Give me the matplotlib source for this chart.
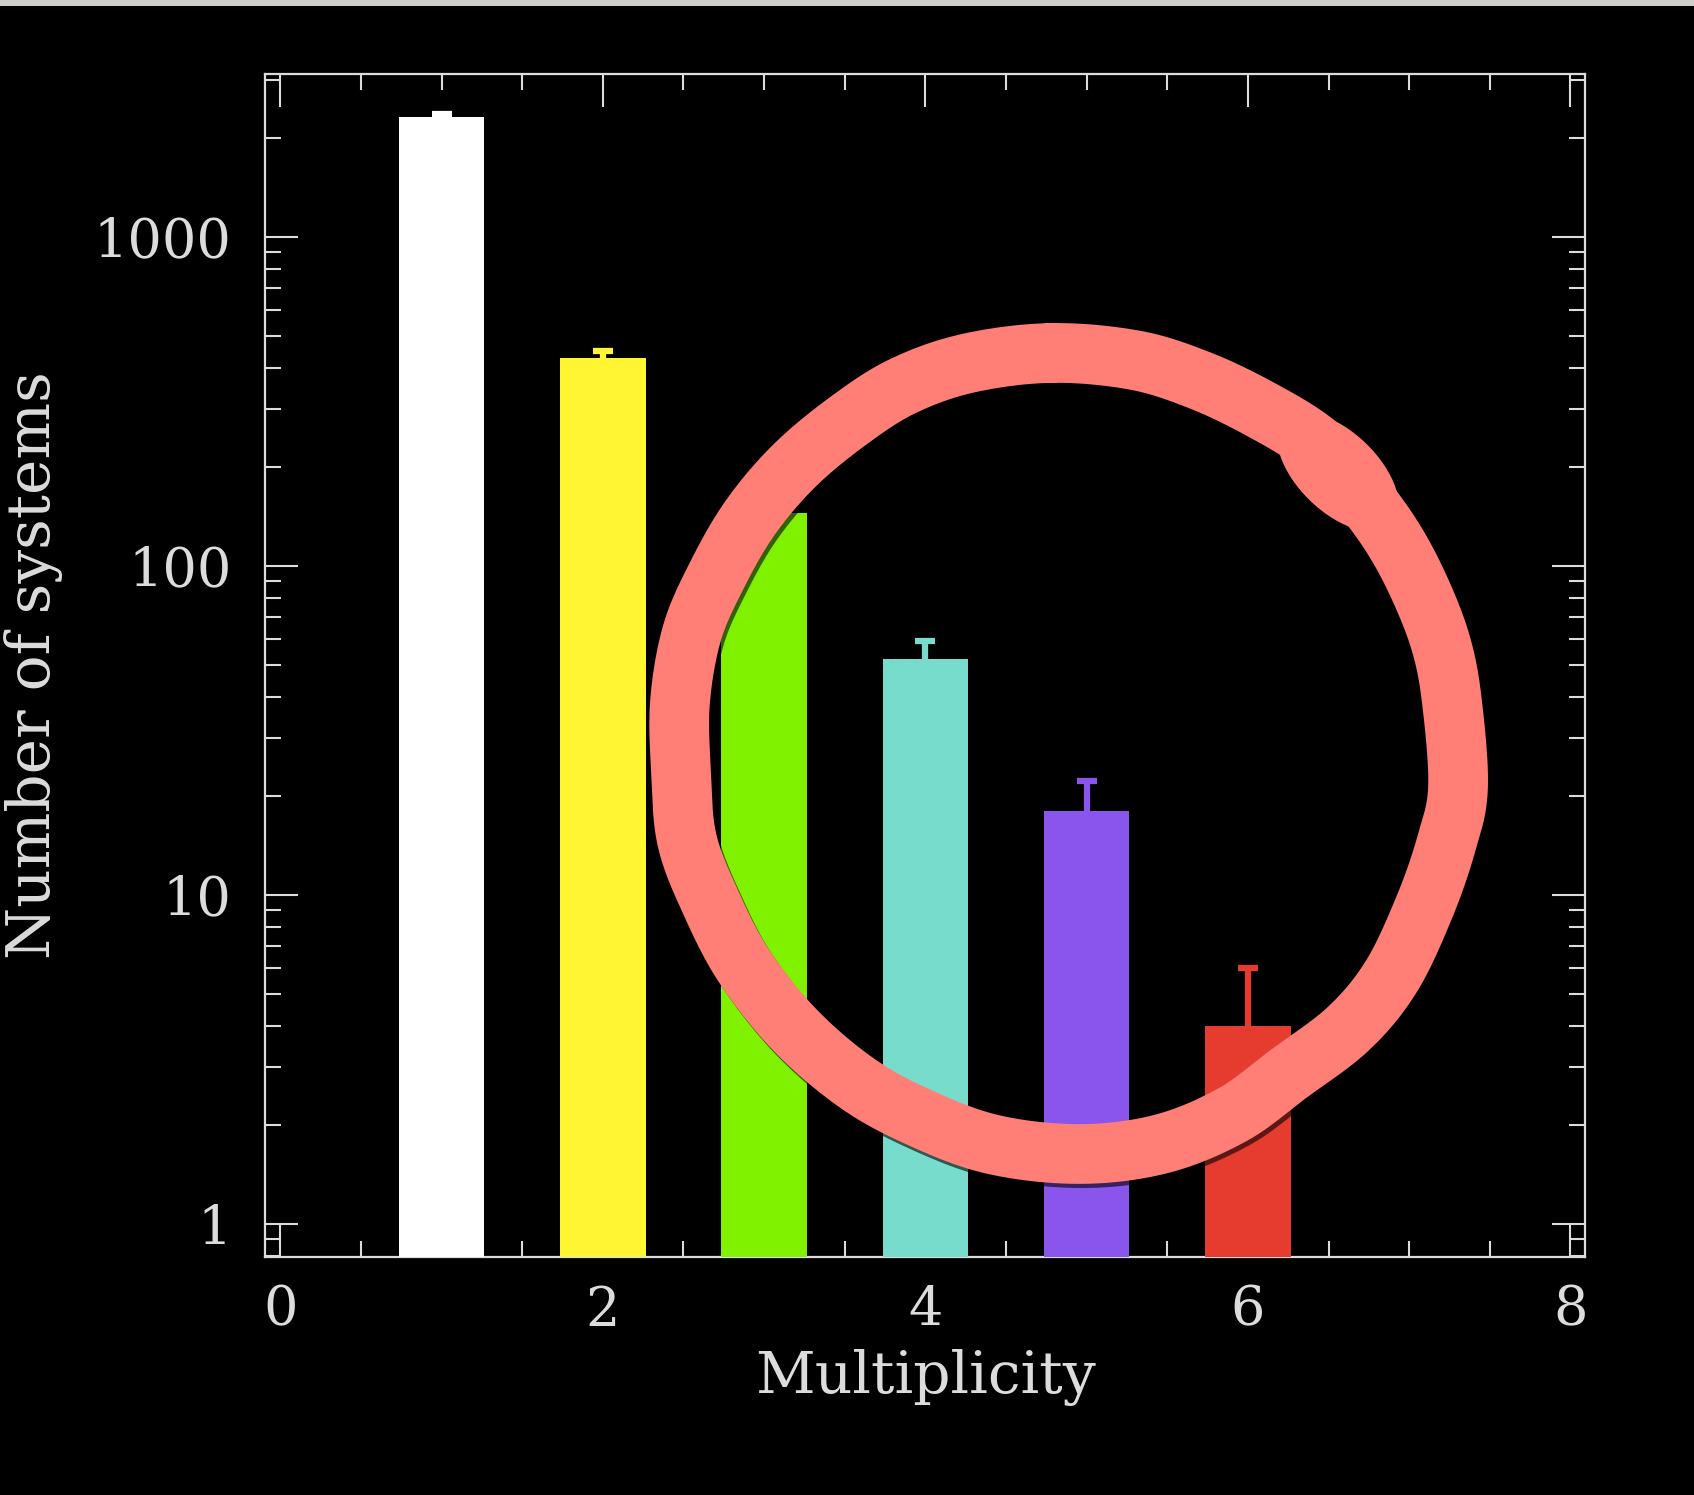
import matplotlib
matplotlib.use("Agg")
import matplotlib.pyplot as plt
import matplotlib.patheffects as pe
from matplotlib.patches import Ellipse, Rectangle
from matplotlib.ticker import MultipleLocator, LogLocator, FixedFormatter, FixedLocator, NullFormatter
import numpy as np

# data
multiplicity = [1, 2, 3, 4, 5, 6]
n_systems = [2320, 430, 145, 52, 18, 4]
n_errors = np.sqrt(n_systems)
bar_colors = ['#ffffff', '#fff533', '#80f200', '#78dccc', '#8a55ec', '#e63c30']

x_ticks = [0, 2, 4, 6, 8]
y_ticks = [1, 10, 100, 1000]
y_ticklabels = ['1', '10', '100', '1000']

# hand drawn loop over the chart (pixel positions of the stroke centre)
loop_px = [
    (1051, 353), (969, 363), (903, 386), (848, 421), (794, 466), (750, 518),
    (717, 575), (692, 633), (680, 702), (681, 771), (687, 840), (711, 903),
    (744, 966), (794, 1029), (854, 1081), (914, 1115), (991, 1144), (1079, 1154),
    (1161, 1144), (1232, 1115), (1287, 1075), (1348, 1029), (1391, 977), (1424, 908),
    (1446, 845), (1458, 788), (1452, 702), (1441, 644), (1419, 587), (1391, 535),
    (1353, 484), (1315, 443), (1260, 409), (1199, 380), (1134, 360),
]

W, H, DPI = 1694, 1495, 100
fg = '#dcdcdc'

fig = plt.figure(figsize=(W / DPI, H / DPI), dpi=DPI, facecolor='black')
ax = fig.add_axes([265 / W, 1 - 1257 / H, 1320 / W, 1183 / H], facecolor='black')

ax.bar(multiplicity, n_systems, width=0.53, color=bar_colors, zorder=3)
for xi, yi, ei, c in zip(multiplicity, n_systems, n_errors, bar_colors):
    ax.errorbar(xi, yi, yerr=ei, fmt='none', ecolor=c, elinewidth=4.5,
                capsize=7.5, capthick=4.5, zorder=3)

ax.set_yscale('log')
ax.set_xlim(-0.095, 8.09)
ax.set_ylim(0.794, 3130)

ax.xaxis.set_major_locator(FixedLocator(x_ticks))
ax.xaxis.set_minor_locator(MultipleLocator(0.5))
ax.yaxis.set_major_locator(FixedLocator(y_ticks))
ax.yaxis.set_major_formatter(FixedFormatter(y_ticklabels))
ax.yaxis.set_minor_locator(LogLocator(base=10, subs=np.arange(2, 10)))
ax.yaxis.set_minor_formatter(NullFormatter())

ax.tick_params(which='both', direction='in', top=True, right=True, color=fg,
               labelcolor=fg, width=1.5)
ax.tick_params(which='major', length=23.5)
ax.tick_params(which='minor', length=11.5)
ax.tick_params(axis='x', pad=20)
ax.tick_params(axis='y', pad=24)
for lab in ax.get_xticklabels() + ax.get_yticklabels():
    lab.set_fontfamily('DejaVu Serif')
    lab.set_fontsize(39)

for sp in ax.spines.values():
    sp.set_color(fg)
    sp.set_linewidth(1.6)
    sp.set_zorder(2)

ax.set_xlabel('Multiplicity', fontsize=42, color=fg, family='DejaVu Serif', va='center')
ax.xaxis.set_label_coords(0.5, -0.1015)
ax.set_ylabel('Number of systems', fontsize=43, color=fg, family='DejaVu Serif', va='center')
ax.yaxis.set_label_coords(-0.175, 0.5)

# light strip along the top edge of the screenshot
fig.patches.append(Rectangle((0, 1 - 6 / H), 1, 6 / H, transform=fig.transFigure,
                             facecolor='#cfcfc7', edgecolor='none', zorder=10))

# smooth closed loop (Catmull-Rom through the traced points)
P = np.array(loop_px, dtype=float)
n = len(P)
pts = []
for i in range(n):
    p0, p1, p2, p3 = P[i - 1], P[i], P[(i + 1) % n], P[(i + 2) % n]
    for t in np.linspace(0, 1, 12, endpoint=False):
        t2, t3 = t * t, t * t * t
        pts.append(0.5 * ((2 * p1) + (-p0 + p2) * t + (2 * p0 - 5 * p1 + 4 * p2 - p3) * t2
                          + (-p0 + 3 * p1 - 3 * p2 + p3) * t3))
pts.append(pts[0])
pts = np.array(pts)
lx = pts[:, 0] / DPI
ly = (H - pts[:, 1]) / DPI

ring = '#ff7f77'
loop = plt.Line2D(lx, ly, transform=fig.dpi_scale_trans, color=ring, linewidth=43,
                  solid_joinstyle='round', solid_capstyle='round', zorder=20,
                  path_effects=[pe.SimpleLineShadow(offset=(2, -3), shadow_color='black', alpha=0.6),
                                pe.Normal()])
fig.lines.append(loop)
blob = Ellipse((1338 / DPI, (H - 472) / DPI), 1.5, 0.8, angle=-44,
               transform=fig.dpi_scale_trans, facecolor=ring, edgecolor='none', zorder=21)
fig.patches.append(blob)

fig.savefig('out.png', dpi=DPI, facecolor='black')
